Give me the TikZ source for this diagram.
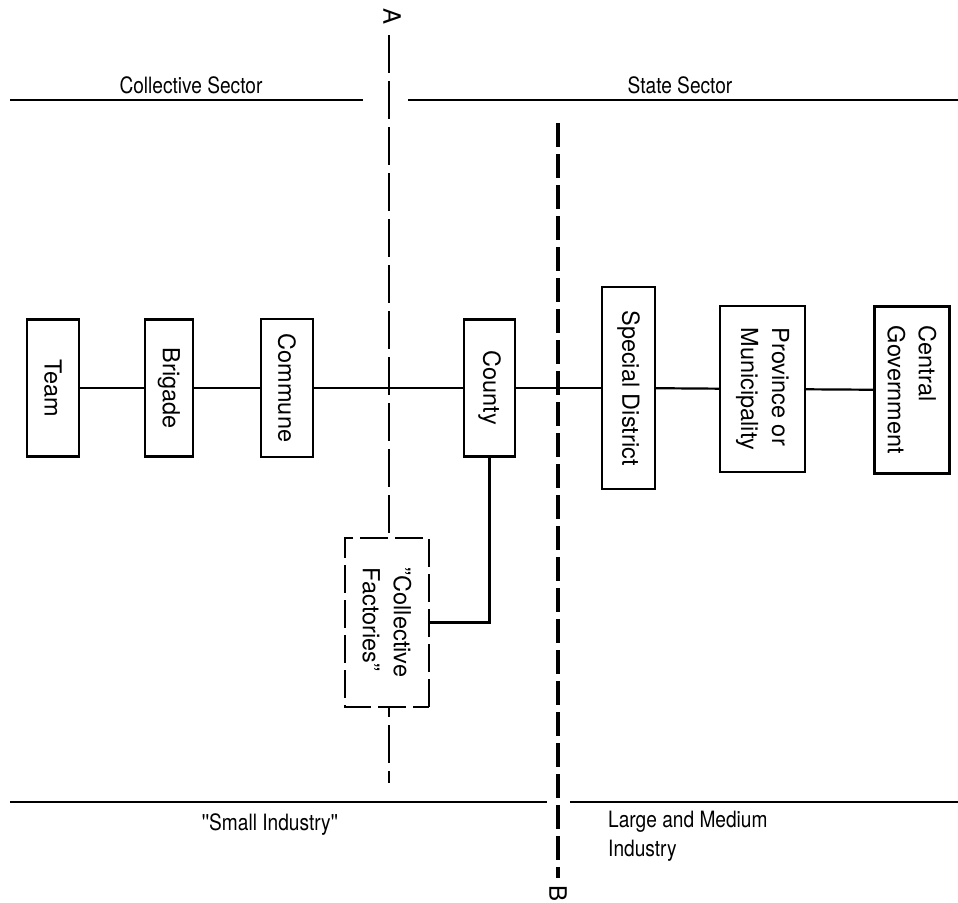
\documentclass[tikz,border=0pt]{standalone}
\usepackage{fontspec}
\setmainfont{TeX Gyre Heros}
\newfontfamily\condfont[FakeStretch=0.85]{TeX Gyre Heros}
\tikzset{
  unitbox/.style={draw, line width=2.2pt, fill=white, rotate=-90, inner sep=0pt,
    align=left, font=\fontsize{23.5}{31}\selectfont},
  dashbox/.style={unitbox, dash pattern=on 28pt off 7pt, line width=1.8pt},
  conn/.style={line width=2.2pt},
  rule/.style={line width=2.2pt},
  lineA/.style={line width=1.8pt, dash pattern=on 38pt off 8pt},
  lineB/.style={line width=3.5pt, dash pattern=on 24pt off 7pt},
  hdr/.style={inner sep=0pt, font=\condfont\fontsize{22.5}{29}\selectfont},
  marklbl/.style={inner sep=0pt, rotate=-90, font=\fontsize{24}{28}\selectfont}
}
\begin{document}
\begin{tikzpicture}[x=1pt,y=-1pt]
\useasboundingbox[fill=white] (0,0) rectangle (958,902);

% section rules
\coordinate (tl1) at (10,100);  \coordinate (tl2) at (363,100);
\coordinate (tr1) at (408,100); \coordinate (tr2) at (958,100);
\coordinate (bl1) at (10,802);  \coordinate (bl2) at (547,802);
\coordinate (br1) at (570,802); \coordinate (br2) at (958,802);
\draw[rule] (tl1) -- (tl2);
\draw[rule] (tr1) -- (tr2);
\draw[rule] (bl1) -- (bl2);
\draw[rule] (br1) -- (br2);

% dividing lines A and B
\coordinate (atop) at (389,35);  \coordinate (abot) at (389,783);
\coordinate (btop) at (558,123); \coordinate (bbot) at (558,878);
\draw[lineA] (atop) -- (abot);
\draw[lineB] (btop) -- (bbot);
\node[marklbl] (alab) at (392,17) {A};
\node[marklbl] (blab) at (558,893) {B};

% headers
\node[hdr, anchor=base] (coll) at (191,93) {Collective Sector};
\node[hdr, anchor=base] (state) at (680,93) {State Sector};
\node[hdr, anchor=base] (small) at (270,830) {''Small Industry''};
\node[hdr, anchor=north west, align=left] (large) at (608,811) {Large and Medium\\Industry};

% units
\node[unitbox, minimum width=137pt, minimum height=52pt] (team) at (53,388) {Team};
\node[unitbox, minimum width=137pt, minimum height=48pt] (brigade) at (169,388) {Brigade};
\node[unitbox, minimum width=138pt, minimum height=52pt] (commune) at (287,388) {Commune};
\node[unitbox, minimum width=137pt, minimum height=51pt] (county) at (489.5,388) {County};
\node[unitbox, minimum width=202pt, minimum height=53pt] (special) at (628.5,388) {Special District};
\node[unitbox, minimum width=166pt, minimum height=85pt] (province) at (762.5,389) {Province or\\Municipality};
\node[unitbox, minimum width=167pt, minimum height=75pt] (central) at (912,390) {Central\\Government};
\node[dashbox, minimum width=169pt, minimum height=84pt] (factories) at (387,622.5) {''Collective\\Factories''};

% connectors
\draw[conn] (team) -- (brigade);
\draw[conn] (brigade) -- (commune);
\draw[conn] (commune) -- (county);
\draw[conn] (county) -- (special);
\draw[conn] (special) -- (province);
\draw[conn] (province) -- (central);
\draw[conn] (county) |- (factories);
\end{tikzpicture}
\end{document}
